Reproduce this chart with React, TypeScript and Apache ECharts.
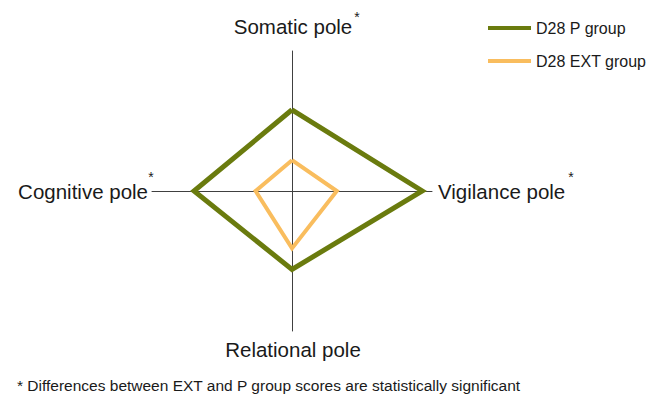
import React, { useEffect, useRef } from "react";
import * as echarts from "echarts";

const indicatorNames = ["Somatic pole", "Cognitive pole", "Relational pole", "Vigilance pole"];
const indicatorMax = [100, 100, 100, 100];
const significant = [true, true, false, true];
const seriesNames = ["D28 P group", "D28 EXT group"];
const pGroupValues = [58, 70, 56, 93];
const extGroupValues = [22, 26, 41, 32];
const footnoteText = "* Differences between EXT and P group scores are statistically significant";

const GREEN = "#6a7b0e";
const ORANGE = "#f9bd5e";
const FONT = "'Liberation Sans', Arial, Helvetica, sans-serif";

export default function App() {
  const ref = useRef<HTMLDivElement>(null);

  useEffect(() => {
    if (!ref.current) return;
    const chart = echarts.init(ref.current, undefined, { renderer: "svg" });

    // asterisk positions next to the significant pole names
    const asteriskPos: Record<number, [number, number]> = {
      0: [357, 17],
      1: [151, 177],
      3: [571, 177],
    };
    const asterisks = significant
      .map((s, i) => (s && asteriskPos[i] ? i : -1))
      .filter((i) => i >= 0)
      .map((i) => ({
        type: "text",
        x: asteriskPos[i][0],
        y: asteriskPos[i][1],
        style: {
          text: "*",
          fontSize: 14,
          fontFamily: FONT,
          fill: "#1a1a1a",
          align: "center",
          verticalAlign: "middle",
        },
      }));

    chart.setOption({
      animation: false,
      backgroundColor: "#ffffff",
      legend: {
        orient: "vertical",
        left: 483,
        top: 15,
        itemWidth: 43,
        itemHeight: 4,
        itemGap: 17,
        icon: "rect",
        textStyle: { fontSize: 16, color: "#1a1a1a", fontFamily: FONT },
        data: seriesNames,
      },
      radar: {
        center: [292, 191],
        radius: 140,
        startAngle: 90,
        shape: "polygon",
        splitNumber: 1,
        axisNameGap: 4,
        indicator: indicatorNames.map((n, i) => ({ name: n, max: indicatorMax[i], min: 0 })),
        axisName: {
          color: "#1a1a1a",
          fontSize: 20.5,
          fontFamily: FONT,
          padding: [4, 0, 10, 2],
        },
        axisLine: { show: true, lineStyle: { color: "#404040", width: 1 } },
        splitLine: { show: false },
        splitArea: { show: false },
        axisTick: { show: false },
        axisLabel: { show: false },
      },
      series: [
        {
          type: "radar",
          symbol: "none",
          data: [
            {
              name: seriesNames[0],
              value: pGroupValues,
              lineStyle: { color: GREEN, width: 5, join: "miter" },
              itemStyle: { color: GREEN },
            },
            {
              name: seriesNames[1],
              value: extGroupValues,
              lineStyle: { color: ORANGE, width: 4, join: "miter" },
              itemStyle: { color: ORANGE },
            },
          ],
        },
      ],
      graphic: [
        ...asterisks,
        {
          type: "text",
          left: 17,
          top: 377,
          style: {
            text: footnoteText,
            fontSize: 15.5,
            fontFamily: FONT,
            fill: "#1a1a1a",
          },
        },
      ],
    });

    return () => chart.dispose();
  }, []);

  return (
    <div
      ref={ref}
      style={{ position: "absolute", left: 0, top: 0, width: 659, height: 398, background: "#fff" }}
    />
  );
}
